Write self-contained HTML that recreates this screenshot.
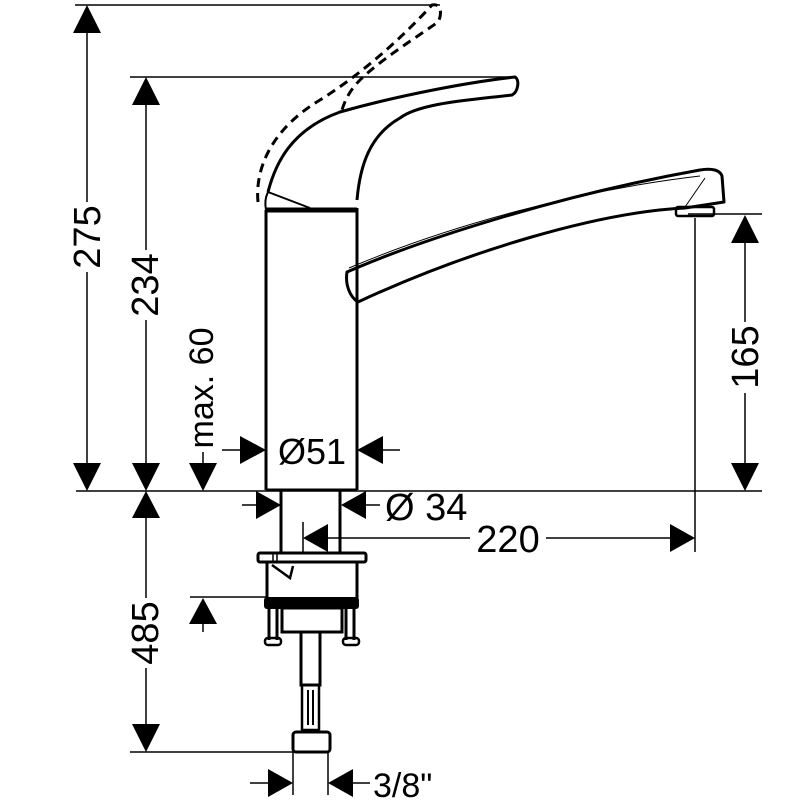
<!DOCTYPE html>
<html><head><meta charset="utf-8"><style>
html,body{margin:0;padding:0;background:#fff;}
svg{display:block;}
text{font-family:"Liberation Sans",sans-serif;fill:#000;}
</style></head><body>
<svg width="800" height="800" viewBox="0 0 800 800" xmlns="http://www.w3.org/2000/svg">
<g stroke="#000" stroke-width="1.5" fill="none">
  <!-- baseline and extension lines -->
  <line x1="76" y1="491" x2="762" y2="491"/>
  <line x1="75" y1="5" x2="440" y2="5"/>
  <line x1="130" y1="77" x2="515" y2="77"/>
  <line x1="688" y1="214" x2="762" y2="214"/>
  <line x1="695" y1="218" x2="695" y2="552"/>
  <line x1="303" y1="522" x2="303" y2="553"/>
  <line x1="130" y1="752" x2="293" y2="752"/>
  <line x1="190" y1="597" x2="266" y2="597"/>
  <line x1="293" y1="752" x2="293" y2="795"/>
  <line x1="328" y1="752" x2="328" y2="795"/>
  <!-- 275 -->
  <line x1="87" y1="30" x2="87" y2="202"/>
  <line x1="87" y1="272" x2="87" y2="465"/>
  <!-- 234 -->
  <line x1="146" y1="102" x2="146" y2="250"/>
  <line x1="146" y1="320" x2="146" y2="465"/>
  <!-- max 60 -->
  <line x1="203" y1="452" x2="203" y2="465"/>
  <!-- 485 -->
  <line x1="146" y1="515" x2="146" y2="598"/>
  <line x1="146" y1="668" x2="146" y2="726"/>
  <!-- small -->
  <line x1="203" y1="620" x2="203" y2="632"/>
  <!-- 165 -->
  <line x1="745" y1="240" x2="745" y2="322"/>
  <line x1="745" y1="393" x2="745" y2="465"/>
  <!-- Ø51 -->
  <line x1="222" y1="450" x2="242" y2="450"/>
  <line x1="381" y1="450" x2="400" y2="450"/>
  <!-- Ø34 -->
  <line x1="242" y1="505" x2="258" y2="505"/>
  <line x1="364" y1="505" x2="380" y2="505"/>
  <!-- 220 -->
  <line x1="325" y1="538" x2="470" y2="538"/>
  <line x1="546" y1="538" x2="670" y2="538"/>
  <!-- 3/8 -->
  <line x1="250" y1="783" x2="268" y2="783"/>
  <line x1="352" y1="783" x2="370" y2="783"/>
</g>
<g fill="#000">
  <!-- arrows -->
  <polygon points="87,5 73,33 101,33"/>
  <polygon points="87,491 73,463 101,463"/>
  <polygon points="146,77 132,105 160,105"/>
  <polygon points="146,491 132,463 160,463"/>
  <polygon points="203,491 189,463 217,463"/>
  <polygon points="146,491 132,518 160,518"/>
  <polygon points="146,752 132,724 160,724"/>
  <polygon points="203,598 189,624 217,624"/>
  <polygon points="745,215 731,243 759,243"/>
  <polygon points="745,491 731,463 759,463"/>
  <polygon points="266,450 240,436 240,464"/>
  <polygon points="357,450 383,436 383,464"/>
  <polygon points="281,505 256,491 256,519"/>
  <polygon points="341,505 366,491 366,519"/>
  <polygon points="303,538 328,524 328,552"/>
  <polygon points="695,538 670,524 670,552"/>
  <polygon points="293,783 268,769 268,797"/>
  <polygon points="328,783 353,769 353,797"/>
</g>
<!-- faucet body -->
<g stroke="#000" stroke-width="3" fill="none" stroke-linejoin="round">
  <path d="M266,490 L266,210 M357,490 L357,208"/>
  <line x1="266" y1="490" x2="357" y2="490"/>
  <line x1="265" y1="210" x2="357" y2="210" stroke-width="5"/>
  <!-- handle -->
  <path d="M268,192 C275,165 290,130 340,112 C400,95 470,82 515,77 C520,80 518,92 512,95 C470,100 420,103 400,118 C370,135 360,165 357,200"/>
  <path d="M268,192 L310,208" stroke-width="2"/>
  <path d="M268,192 C265,198 265,205 266,210" stroke-width="2"/>
  <!-- spout -->
  <path d="M347,272 C420,240 560,195 700,170 C712,168 720,170 722,176 L724,202 L685,208 C600,212 470,250 358,302 C350,297 345,285 347,272 Z"/>
  <path d="M349,268 C450,225 580,190 700,176" stroke-width="1"/>
  <path d="M685,207 L705,178" stroke-width="1"/>
  <rect x="676" y="207" width="38" height="9" rx="2" stroke-width="2.5"/>
</g>
<!-- dashed handle -->
<g stroke="#000" stroke-width="3" fill="none" stroke-dasharray="9,6">
  <path d="M258,202 C255,170 270,130 320,100 C360,75 400,40 432,5 C442,3 442,15 438,22 C420,35 380,60 360,80 C350,90 345,100 342,110"/>
</g>
<!-- lower fitting -->
<g stroke="#000" stroke-width="3" fill="none">
  <line x1="281" y1="491" x2="281" y2="553"/>
  <line x1="340" y1="491" x2="340" y2="553"/>
  <rect x="258" y="553" width="108" height="9" rx="2"/>
  <line x1="273" y1="554" x2="273" y2="561" stroke-width="1.5"/>
  <line x1="277" y1="554" x2="277" y2="561" stroke-width="1.5"/>
  <path d="M267,562 L267,598 M357,562 L357,598"/>
  <path d="M272,565 L290,578 L293,566" stroke-width="2.5"/>
  <rect x="282" y="608" width="60" height="24"/>
  <path d="M269,608 L269,640 M277,608 L277,640 M346,608 L346,640 M354,608 L354,640"/>
  <rect x="265" y="638" width="16" height="7" rx="3" stroke-width="2.5"/>
  <rect x="343" y="638" width="16" height="7" rx="3" stroke-width="2.5"/>
  <rect x="301" y="632" width="19" height="53"/>
  <rect x="302" y="685" width="17" height="45" stroke-width="2.5"/>
  <line x1="308" y1="690" x2="308" y2="725" stroke-width="2"/>
  <line x1="313" y1="690" x2="313" y2="725" stroke-width="2"/>
  <rect x="293" y="732" width="37" height="20" rx="3"/>
</g>
<rect x="264" y="597" width="95" height="12" rx="3" fill="#000"/>
<!-- labels -->
<g font-size="38">
  <text x="0" y="0" text-anchor="middle" dominant-baseline="central" transform="translate(88,237) rotate(-90)">275</text>
  <text x="0" y="0" text-anchor="middle" dominant-baseline="central" transform="translate(146,285) rotate(-90)">234</text>
  <text x="0" y="0" text-anchor="middle" dominant-baseline="central" transform="translate(746,357) rotate(-90)">165</text>
  <text x="0" y="0" text-anchor="middle" dominant-baseline="central" transform="translate(146,633) rotate(-90)">485</text>
  <text x="0" y="0" text-anchor="middle" dominant-baseline="central" font-size="34" transform="translate(202,388) rotate(-90)">max. 60</text>
  <text x="312" y="464" text-anchor="middle" font-size="36">Ø51</text>
  <text x="385" y="520">Ø 34</text>
  <text x="508" y="552" text-anchor="middle">220</text>
  <text x="373" y="797" font-size="34">3/8"</text>
</g>
</svg>
</body></html>
